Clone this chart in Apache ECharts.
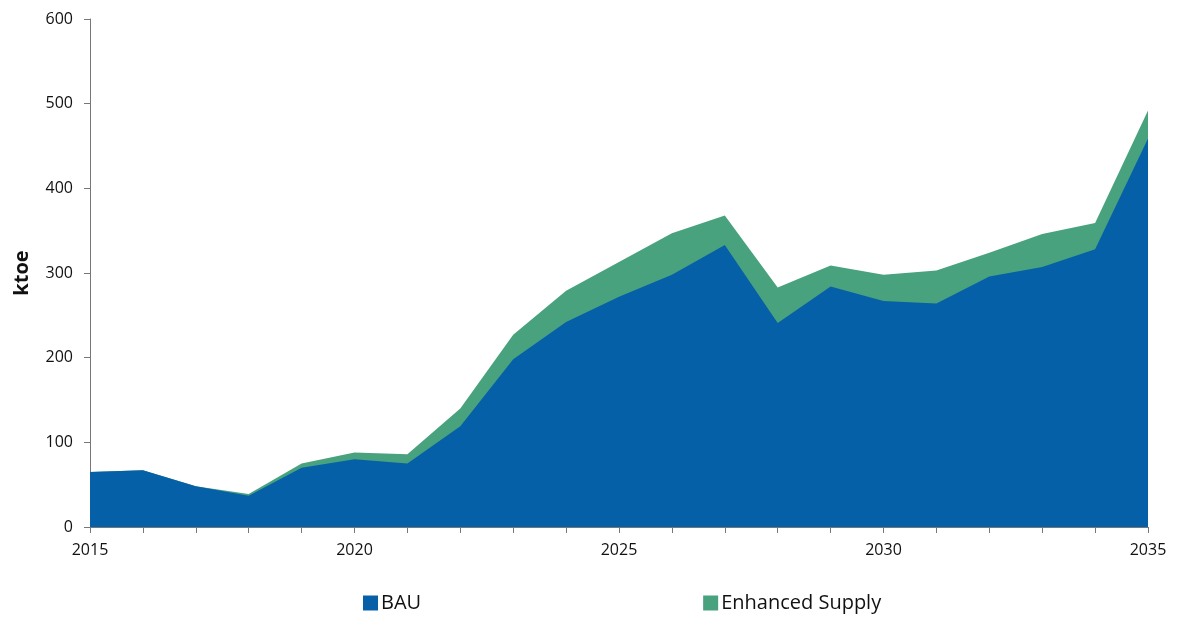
<!DOCTYPE html>
<html lang="en">
<head>
    <meta charset="UTF-8">
    <script src="https://cdn.jsdelivr.net/npm/echarts@6/dist/echarts.min.js"></script>
    <title>ktoe</title>
    <style>
        html, body { height: 100%; }
        * { padding: 0; margin: 0; }
    </style>
</head>
<body>
    <div id="chart" style="width: 1181px;height: 622px;"></div>
    <script>
        var years = ['2015', '2016', '2017', '2018', '2019', '2020', '2021', '2022', '2023', '2024', '2025',
            '2026', '2027', '2028', '2029', '2030', '2031', '2032', '2033', '2034', '2035'];
        var bau = [65, 67, 48, 37, 70, 80, 75, 119, 198, 242, 272, 298, 333, 241, 284, 267, 264, 296, 307, 328, 459];
        var enhanced = [65, 67, 48, 39, 75, 88, 86, 140, 227, 279, 313, 347, 368, 283, 309, 298, 303, 324, 346, 359, 492];
        var yTicks = [0, 100, 200, 300, 400, 500, 600];

        var blue = '#0660a8';
        var green = '#49a27e';
        var font = 'Open Sans, Noto Sans, sans-serif';

        var myChart = echarts.init(document.getElementById('chart'));
        var option = {
            backgroundColor: '#ffffff',
            animation: false,
            grid: { left: 90, right: 33, top: 19, bottom: 95 },
            legend: {
                left: 358,
                top: 588,
                itemGap: 282,
                itemWidth: 15,
                itemHeight: 15,
                icon: 'rect',
                textStyle: { fontFamily: font, fontSize: 20, color: '#111', padding: [0, 0, 0, -2] },
                data: ['BAU', 'Enhanced Supply']
            },
            xAxis: {
                type: 'category',
                boundaryGap: false,
                data: years,
                axisLine: { lineStyle: { color: '#777', width: 1 } },
                axisTick: { show: true, interval: 0, length: 6, lineStyle: { color: '#777' } },
                axisLabel: {
                    interval: 4,
                    margin: 15,
                    fontFamily: font,
                    fontSize: 16,
                    color: '#111'
                },
                splitLine: { show: false }
            },
            yAxis: {
                type: 'value',
                min: yTicks[0],
                max: yTicks[yTicks.length - 1],
                interval: 100,
                name: 'ktoe',
                nameLocation: 'middle',
                nameGap: 58,
                nameTextStyle: { fontFamily: font, fontSize: 20, fontWeight: 'bold', color: '#111' },
                axisLine: { show: true, lineStyle: { color: '#777', width: 1 } },
                axisTick: { show: true, length: 6, lineStyle: { color: '#777' } },
                axisLabel: { margin: 17, fontFamily: font, fontSize: 16, color: '#111' },
                splitLine: { show: false }
            },
            series: [
                {
                    name: 'Enhanced Supply',
                    type: 'line',
                    data: enhanced,
                    symbol: 'none',
                    lineStyle: { width: 0 },
                    itemStyle: { color: green },
                    areaStyle: { color: green, opacity: 1 },
                    z: 1
                },
                {
                    name: 'BAU',
                    type: 'line',
                    data: bau,
                    symbol: 'none',
                    lineStyle: { width: 0 },
                    itemStyle: { color: blue },
                    areaStyle: { color: blue, opacity: 1 },
                    z: 2
                }
            ]
        };
        myChart.setOption(option);
    </script>
</body>
</html>
